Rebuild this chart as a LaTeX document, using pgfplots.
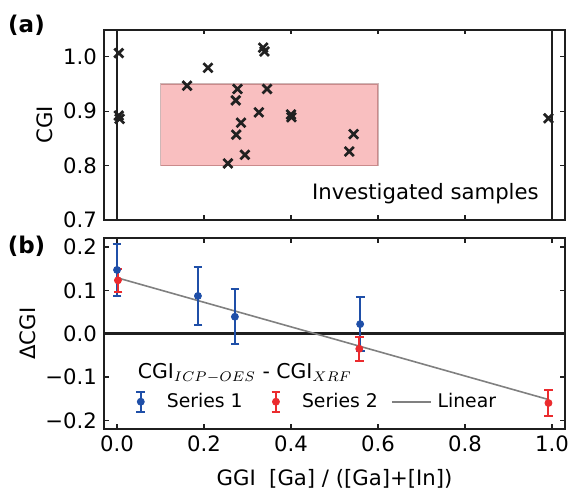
\documentclass[border=0pt]{standalone}
\usepackage{fontspec}
\setmainfont{DejaVu Sans}
\usepackage{pgfplots}
\pgfplotsset{compat=1.18}
\definecolor{myblue}{rgb}{0.12,0.31,0.66}
\definecolor{myred}{rgb}{0.92,0.17,0.18}
\definecolor{mk}{rgb}{0.13,0.13,0.13}

\pgfplotstableread{
x y
0.004 1.007
0.004 0.892
0.006 0.886
0.161 0.947
0.209 0.980
0.277 0.941
0.273 0.920
0.285 0.879
0.274 0.857
0.294 0.820
0.255 0.804
0.326 0.898
0.336 1.017
0.339 1.010
0.345 0.941
0.400 0.894
0.401 0.889
0.544 0.858
0.534 0.826
0.992 0.887
}\samples

\pgfplotstableread{
x y e
0.000 0.147 0.060
0.186 0.087 0.066
0.271 0.039 0.064
0.559 0.022 0.062
}\seriesone

\pgfplotstableread{
x y e
0.002 0.123 0.027
0.557 -0.035 0.028
0.992 -0.160 0.030
}\seriestwo

\pgfplotsset{
  mystyle/.style={
    scale only axis, width=230.5pt,
    xmin=-0.03, xmax=1.03,
    tick align=inside, major tick length=2.3pt,
    axis line style={line width=1.2pt, black!88},
    every tick/.style={black!88, line width=0.6pt},
    xtick={0,0.2,0.4,0.6,0.8,1.0},
    font=\fontsize{10.6}{12.7}\selectfont,
    /pgf/number format/assume math mode=true,
    ylabel style={anchor=center},
  }
}

\begin{document}
\begin{tikzpicture}
\path[use as bounding box] (-52pt,-134pt) rectangle (233pt,110pt);

\begin{axis}[mystyle,
  at={(0,0)}, anchor=south west, height=95.15pt,
  ymin=0.7, ymax=1.05,
  ytick={0.7,0.8,0.9,1.0}, yticklabels={0.7,0.8,0.9,1.0},
  xticklabels={},
  ylabel={CGI},
  ylabel style={at={(axis description cs:-0.128,0.5)}},
]
\addplot[fill=myred, fill opacity=0.3, draw=black!60!myred, draw opacity=0.3, line width=0.6pt]
  coordinates {(0.1,0.8) (0.6,0.8) (0.6,0.95) (0.1,0.95)} -- cycle;
\addplot[black!88, line width=1.2pt] coordinates {(0,0.7) (0,1.05)};
\addplot[black!88, line width=1.2pt] coordinates {(1,0.7) (1,1.05)};
\addplot[only marks, mark=x, mark size=3.2pt, mk, mark options={line width=1.35pt}] table[x=x,y=y] {\samples};
\node[anchor=base] at (axis cs:0.709,0.737) {Investigated samples};
\end{axis}

\begin{axis}[mystyle,
  at={(0,-9.15pt)}, anchor=north west, height=95.35pt,
  ymin=-0.22, ymax=0.22,
  ytick={-0.2,-0.1,0,0.1,0.2}, yticklabels={−0.2,−0.1,0.0,0.1,0.2},
  xticklabels={0.0,0.2,0.4,0.6,0.8,1.0},
  ylabel={ΔCGI},
  ylabel style={at={(axis description cs:-0.166,0.5)}},
  xlabel={GGI\ \ [Ga] / ([Ga]+[In])},
  xlabel style={at={(axis description cs:0.5,-0.294)}, anchor=base},
  legend columns=3,
  legend style={draw=none, fill=none, inner sep=0pt, anchor=west,
    at={(axis description cs:0.0358,0.143)},
    font=\fontsize{9.4}{11.3}\selectfont,
    /tikz/column sep=0pt,
    /tikz/every even column/.append style={column sep=6.7pt},
    nodes={inner xsep=0pt, inner ysep=1pt, anchor=west}},
]
\addplot[black!88, line width=1.2pt, forget plot] coordinates {(-0.03,0) (1.03,0)};
\addplot[gray, line width=0.8pt, forget plot] coordinates {(0,0.129) (0.992,-0.152)};
\addplot[forget plot, myblue, only marks, mark=*, mark size=1.75pt, mark options={fill=myblue, draw=myblue},
  error bars/.cd, y dir=both, y explicit,
  error bar style={line width=1pt, myblue},
  error mark options={rotate=90, mark size=2.2pt, line width=1pt, myblue},
  ] table[x=x,y=y,y error=e] {\seriesone};
\addplot[forget plot, myred, only marks, mark=*, mark size=1.75pt, mark options={fill=myred, draw=myred},
  error bars/.cd, y dir=both, y explicit,
  error bar style={line width=1pt, myred},
  error mark options={rotate=90, mark size=2.2pt, line width=1pt, myred},
  ] table[x=x,y=y,y error=e] {\seriestwo};
\addlegendimage{legend image code/.code={
  \path (0pt,0pt) (22.6pt,0pt);
  \draw[myblue, line width=1pt] (9.75pt,-5pt) -- (9.75pt,5pt);
  \draw[myblue, line width=1pt] (7.55pt,-5pt) -- (11.95pt,-5pt);
  \draw[myblue, line width=1pt] (7.55pt,5pt) -- (11.95pt,5pt);
  \fill[myblue] (9.75pt,0pt) circle (1.75pt);}}
\addlegendentry{Series 1}
\addlegendimage{legend image code/.code={
  \path (0pt,0pt) (22.6pt,0pt);
  \draw[myred, line width=1pt] (9.75pt,-5pt) -- (9.75pt,5pt);
  \draw[myred, line width=1pt] (7.55pt,-5pt) -- (11.95pt,-5pt);
  \draw[myred, line width=1pt] (7.55pt,5pt) -- (11.95pt,5pt);
  \fill[myred] (9.75pt,0pt) circle (1.75pt);}}
\addlegendentry{Series 2}
\addlegendimage{legend image code/.code={
  \path (0pt,0pt) (22.6pt,0pt);
  \draw[gray, line width=0.8pt] (0pt,0pt) -- (19.5pt,0pt);}}
\addlegendentry{Linear}
\node[anchor=base west, font=\fontsize{10.2}{12}\selectfont] at (axis description cs:0.058,0.267) {CGI$_{ICP-OES}$ - CGI$_{XRF}$};
\end{axis}

\node[font=\fontsize{11.5}{13}\selectfont\bfseries] at (-38.75pt,97.5pt) {(a)};
\node[font=\fontsize{11.5}{13}\selectfont\bfseries] at (-38.75pt,-13pt) {(b)};
\end{tikzpicture}
\end{document}
